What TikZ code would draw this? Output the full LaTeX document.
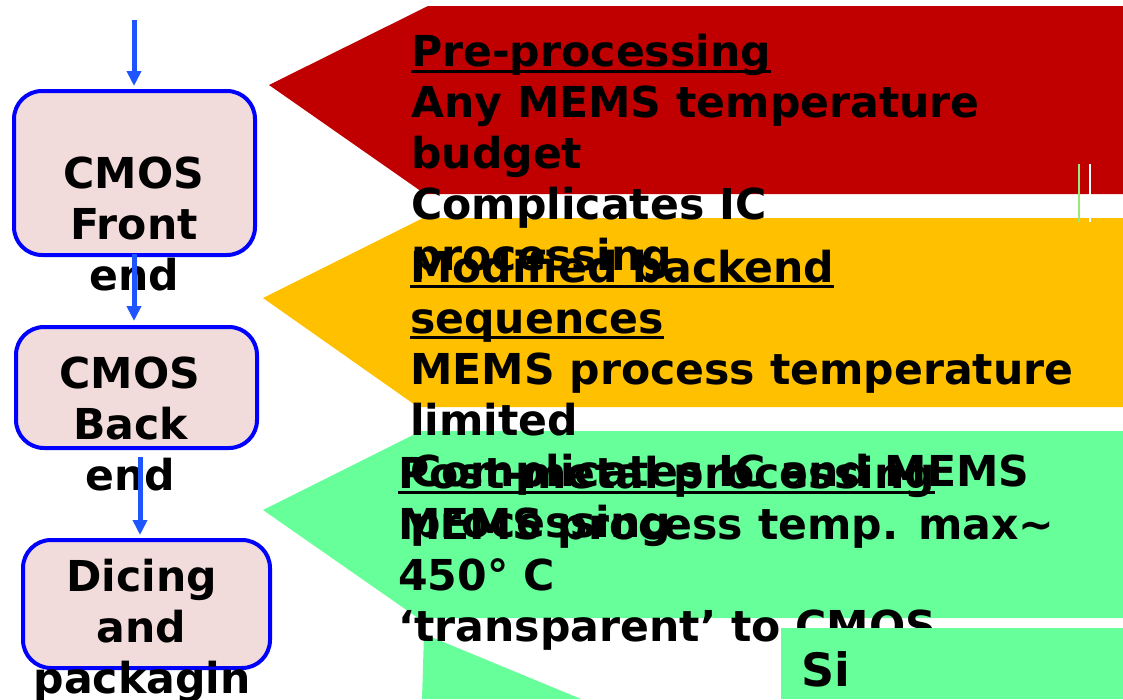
\documentclass[tikz,border=0pt]{standalone}
\usepackage{fontspec}
\newfontfamily\dvs{DejaVu Sans}
\usetikzlibrary{arrows.meta}
\definecolor{cred}{RGB}{192,0,0}
\definecolor{cyel}{RGB}{255,192,0}
\definecolor{cgrn}{RGB}{102,255,153}
\definecolor{cbox}{RGB}{242,220,219}
\definecolor{cborder}{RGB}{0,0,255}
\definecolor{carrow}{RGB}{30,85,255}
\definecolor{cthin}{RGB}{150,235,120}
\begin{document}
\begin{tikzpicture}[x=1pt,y=-1pt,
  txt/.style={inner sep=0pt, anchor=base west, font=\dvs\bfseries\fontsize{42.6}{51}\selectfont},
  ctxt/.style={inner sep=0pt, anchor=base, font=\dvs\bfseries\fontsize{42.6}{51}\selectfont},
  boxst/.style={draw=cborder, line width=4pt, fill=cbox, rounded corners=28pt, inner sep=0pt},
  arr/.style={draw=carrow, line width=5pt, -{Triangle[width=14pt,length=15pt]}},
  uline/.style={line width=2.5pt, black},
  thin/.style={line width=1.2pt}
  ]
\useasboundingbox (0,0) rectangle (1123,699);
% banner shapes
\fill[cred] (269,85) -- (428,6) -- (1123,6) -- (1123,194) -- (425,194) -- cycle;
\fill[cyel] (263,298) -- (423,218) -- (1123,218) -- (1123,407) -- (418,407) -- cycle;
\fill[cgrn] (263,510) -- (421,431) -- (1123,431) -- (1123,618) -- (418,618) -- cycle;
\fill[cgrn] (424,634) -- (581,699) -- (422,699) -- cycle;
\draw[thin, cthin] (1079,164) -- (1079,222);
\draw[thin, white] (1090,164) -- (1090,222);
% left boxes
\node[boxst, minimum width=241pt, minimum height=164pt] (b1) at (134.5,173) {};
\node[boxst, minimum width=241pt, minimum height=121pt] (b2) at (136.5,387.5) {};
\node[boxst, minimum width=247pt, minimum height=128pt] (b3) at (146.5,604) {};
\node[ctxt] (b1a) at (134,188) {CMOS};
\node[ctxt] (b1b) at (134,239) {Front};
\node[ctxt] (b1c) at (134,290) {end};
\node[ctxt] (b2a) at (130,388) {CMOS};
\node[ctxt] (b2b) at (130.5,439) {Back};
\node[ctxt] (b2c) at (130.5,490) {end};
\node[ctxt] (b3a) at (141.5,591) {Dicing};
\node[ctxt] (b3b) at (141.5,642) {and};
\node[ctxt] (b3c) at (142,693) {packagin};
% red texts
\node[txt] (r1) at (411,66) {Pre-processing};
\node[txt] (r2) at (411,117) {Any MEMS temperature};
\node[txt] (r3) at (411,168) {budget};
\node[txt] (r4) at (411,219) {Complicates IC};
\node[txt] (r5) at (411,270) {processing};
% yellow texts
\node[txt] (y1) at (410,282) {Modified backend};
\node[txt] (y2) at (410,333) {sequences};
\node[txt] (y3) at (410,384) {MEMS process temperature};
\node[txt] (y4) at (410,435) {limited};
\node[txt] (y5) at (410,486) {Complicates IC and MEMS};
\node[txt] (y6) at (410,537) {processing};
% green texts
\node[txt] (g1) at (398,488) {Post-metal processing};
\node[txt] (g2) at (398,539) {MEMS process temp. max\textasciitilde};
\node[txt] (g3) at (398,590) {450° C};
\node[txt] (g4) at (398,641) {‘transparent’ to CMOS};
% underlines
\draw[uline] ([yshift=-5.5pt]r1.base west) -- ([yshift=-5.5pt]r1.base east);
\draw[uline] ([yshift=-4.5pt]y1.base west) -- ([yshift=-4.5pt]y1.base east);
\draw[uline] ([yshift=-4.5pt]y2.base west) -- ([yshift=-4.5pt]y2.base east);
\draw[uline] ([yshift=-4.5pt]g1.base west) -- ([yshift=-4.5pt]g1.base east);
% Si box
\fill[cgrn] (781,628) rectangle (1123,699);
\node[inner sep=0pt, anchor=base west, font=\dvs\bfseries\fontsize{46}{55}\selectfont] (si) at (801,686) {Si};
% arrows
\coordinate (in) at (134,20);
\draw[arr] (in) -- ([shift={(-0.5pt,3pt)}]b1.north);
\draw[arr] ([shift={(-0.5pt,3pt)}]b1.south) -- ([shift={(-2.5pt,4pt)}]b2.north);
\draw[arr] ([shift={(3.5pt,-7pt)}]b2.south) -- ([shift={(-6.5pt,3pt)}]b3.north);
\end{tikzpicture}
\end{document}
